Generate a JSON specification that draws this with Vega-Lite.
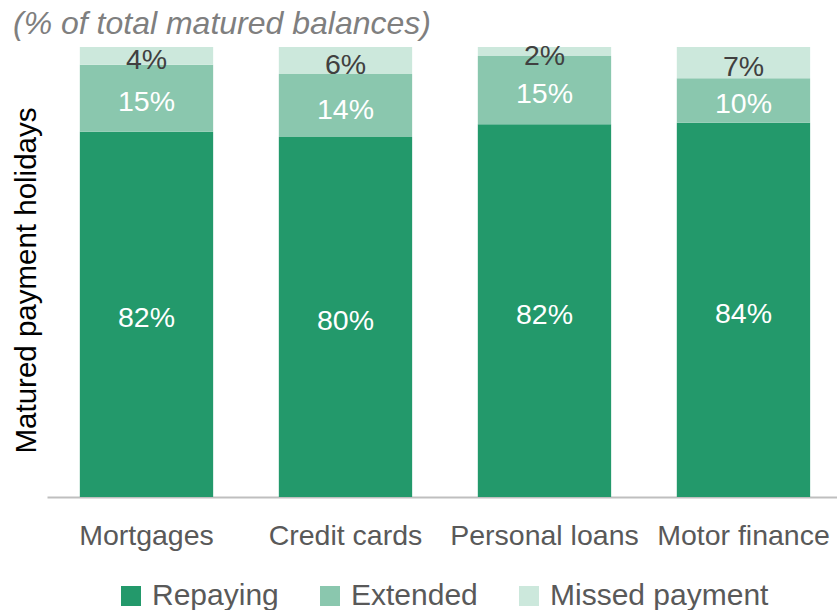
{
  "$schema": "https://vega.github.io/schema/vega-lite/v6.json",
  "autosize": {"type": "none"},
  "width": 790,
  "height": 450,
  "padding": {"left": 47, "top": 47, "right": 0, "bottom": 113},
  "background": "white",
  "config": {
    "view": {"stroke": null},
    "font": "Liberation Sans",
    "legend": {"layout": {"bottom": {"anchor": "middle"}}}
  },
  "title": {
    "text": "(% of total matured balances)",
    "anchor": "start",
    "frame": "group",
    "dx": -34,
    "offset": 1,
    "fontSize": 32,
    "fontStyle": "italic",
    "fontWeight": "normal",
    "color": "#7F7F7F",
    "font": "Liberation Sans"
  },
  "data": {
    "values": [
      {"category": "Mortgages", "series": "Repaying", "value": 82},
      {"category": "Mortgages", "series": "Extended", "value": 15},
      {"category": "Mortgages", "series": "Missed payment", "value": 4},
      {"category": "Credit cards", "series": "Repaying", "value": 80},
      {"category": "Credit cards", "series": "Extended", "value": 14},
      {"category": "Credit cards", "series": "Missed payment", "value": 6},
      {"category": "Personal loans", "series": "Repaying", "value": 82},
      {"category": "Personal loans", "series": "Extended", "value": 15},
      {"category": "Personal loans", "series": "Missed payment", "value": 2},
      {"category": "Motor finance", "series": "Repaying", "value": 84},
      {"category": "Motor finance", "series": "Extended", "value": 10},
      {"category": "Motor finance", "series": "Missed payment", "value": 7}
    ]
  },
  "transform": [
    {"calculate": "indexof(['Repaying','Extended','Missed payment'], datum.series)", "as": "ord"},
    {"stack": "value", "groupby": ["category"], "sort": [{"field": "ord", "order": "ascending"}], "offset": "normalize", "as": ["y0", "y1"]},
    {"calculate": "(datum.y0 + datum.y1) / 2", "as": "mid"},
    {"calculate": "datum.value + '%'", "as": "label"}
  ],
  "encoding": {
    "x": {
      "field": "category",
      "type": "nominal",
      "sort": ["Mortgages", "Credit cards", "Personal loans", "Motor finance"],
      "scale": {"paddingInner": 0.33, "paddingOuter": 0.15, "align": 0.55},
      "axis": {
        "title": null,
        "labelAngle": 0,
        "labelFontSize": 28.5,
        "labelColor": "#595959",
        "labelPadding": 24,
        "labelLimit": 400,
        "ticks": false,
        "tickSize": 0,
        "domainColor": "#BFBFBF",
        "domainWidth": 2,
        "labelFont": "Liberation Sans"
      }
    }
  },
  "layer": [
    {
      "mark": {"type": "bar"},
      "encoding": {
        "y": {
          "field": "y0",
          "type": "quantitative",
          "scale": {"domain": [0, 1], "nice": false, "zero": true},
          "axis": {
            "title": "Matured payment holidays",
            "titleFontSize": 29.5,
            "titleFontWeight": "normal",
            "titleColor": "#000000",
            "titlePadding": 6,
            "titleY": 233,
            "titleFont": "Liberation Sans",
            "labels": false,
            "ticks": false,
            "domain": false,
            "grid": false
          }
        },
        "y2": {"field": "y1"},
        "color": {
          "field": "series",
          "type": "nominal",
          "scale": {
            "domain": ["Repaying", "Extended", "Missed payment"],
            "range": ["#23996B", "#8AC7AE", "#CCE8DC"]
          },
          "legend": {
            "title": null,
            "orient": "bottom",
            "direction": "horizontal",
            "symbolType": "square",
            "symbolSize": 400,
            "symbolStrokeWidth": 0,
            "labelFontSize": 30,
            "labelColor": "#595959",
            "labelFont": "Liberation Sans",
            "labelOffset": 6,
            "columnPadding": 36,
            "offset": 31,
            "labelLimit": 400
          }
        }
      }
    },
    {
      "mark": {"type": "text", "fontSize": 28.5, "baseline": "middle", "align": "center", "dy": 4, "font": "Liberation Sans"},
      "encoding": {
        "y": {"field": "mid", "type": "quantitative"},
        "text": {"field": "label", "type": "nominal"},
        "fill": {
          "condition": {"test": "datum.series === 'Missed payment'", "value": "#404040"},
          "value": "#FFFFFF"
        }
      }
    }
  ]
}
